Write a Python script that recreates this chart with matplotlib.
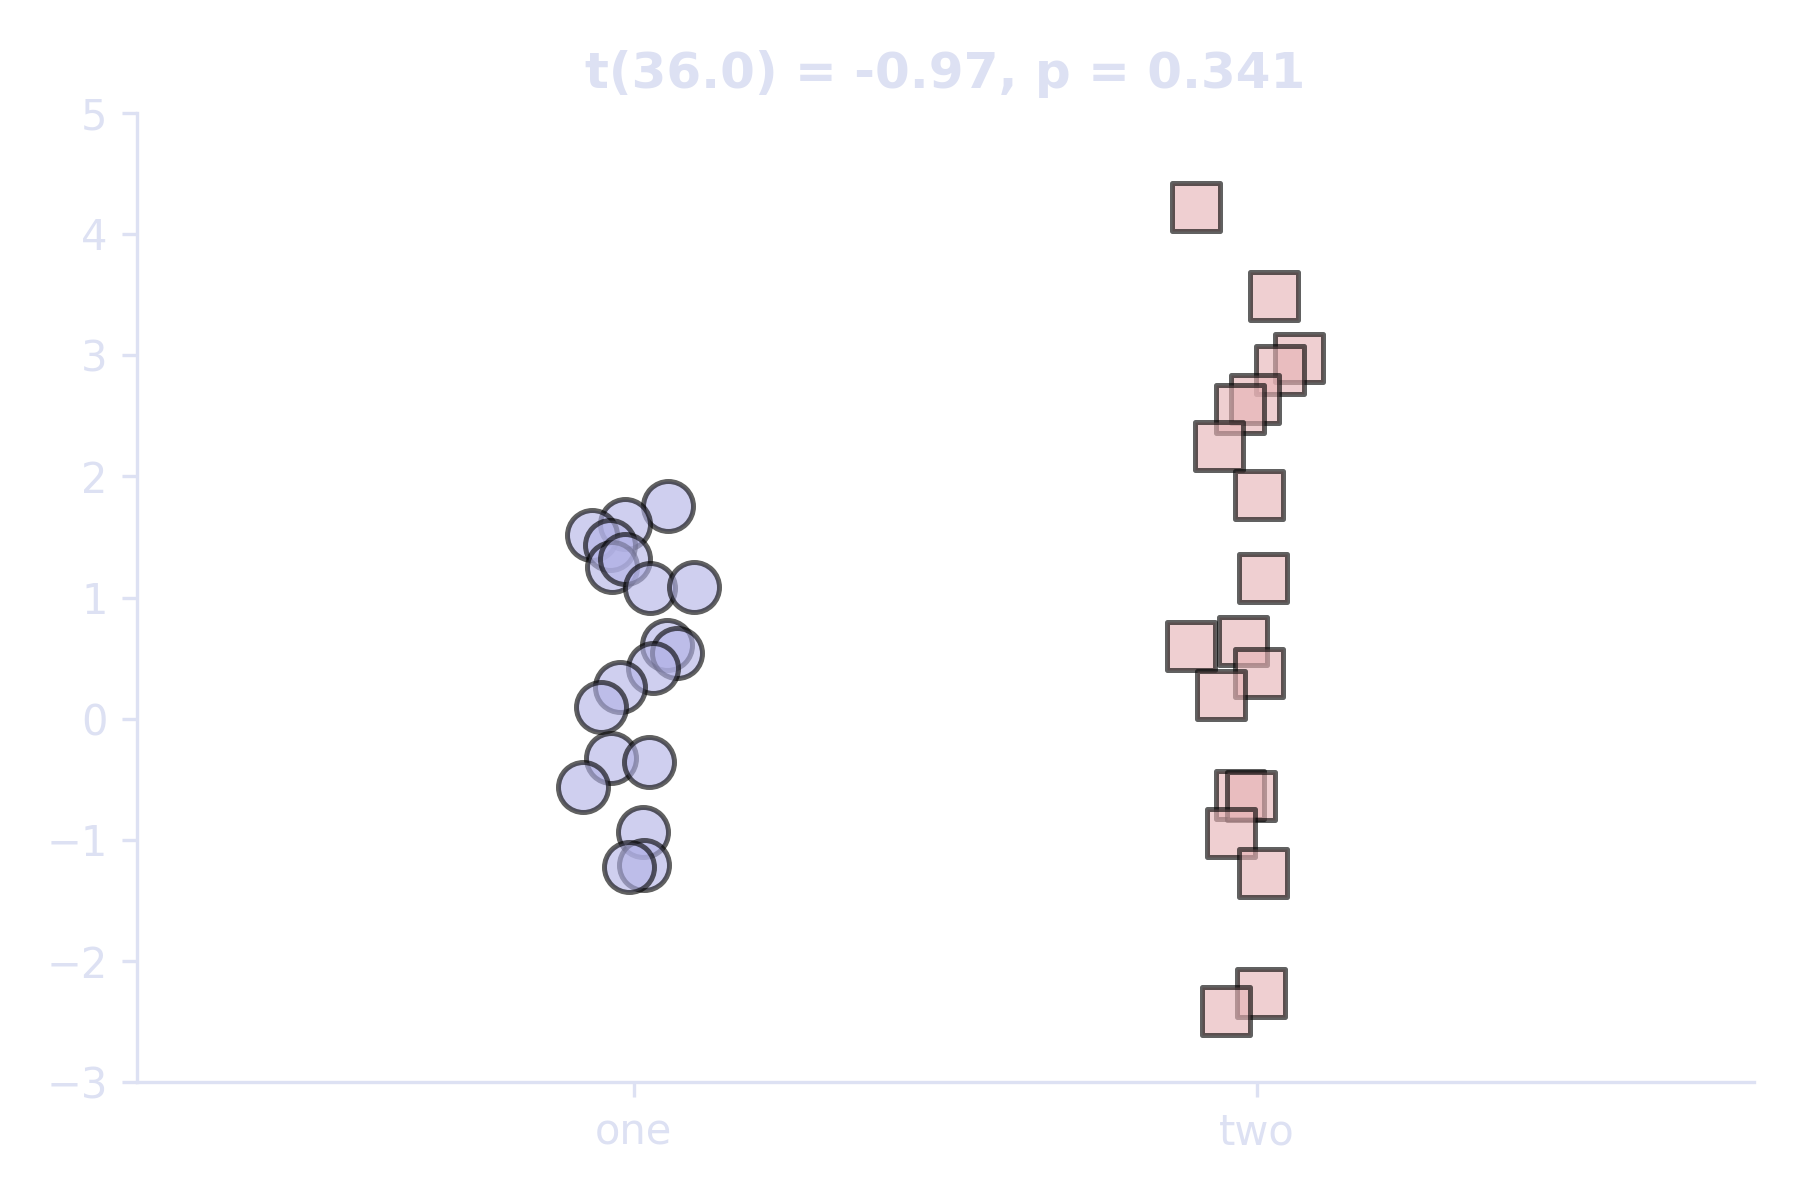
import matplotlib
matplotlib.use('Agg')
import matplotlib.pyplot as plt
import numpy as np

# data (value, horizontal jitter around the category)
groups = ['one', 'two']

one_y = [1.755, 1.61, 1.515, 1.43, 1.25, 1.32, 1.08, 1.09, 0.61, 0.54,
         0.42, 0.26, 0.10, -0.32, -0.36, -0.56, -0.93, -1.21, -1.22]
one_jit = [0.055, -0.014, -0.067, -0.038, -0.035, -0.014, 0.026, 0.097, 0.053, 0.069,
           0.031, -0.022, -0.052, -0.036, 0.025, -0.081, 0.015, 0.017, -0.008]

two_y = [4.22, 3.49, 2.98, 2.88, 2.64, 2.56, 2.25, 1.85, 1.16, 0.60,
         0.64, 0.38, 0.20, -0.63, -0.64, -0.94, -1.27, -2.26, -2.41]
two_jit = [-0.098, 0.027, 0.067, 0.037, -0.003, -0.027, -0.061, 0.003, 0.010, -0.106,
           -0.023, 0.003, -0.058, -0.027, -0.010, -0.042, 0.009, 0.006, -0.050]

title = 't(36.0) = -0.97, p = 0.341'

light = '#dde1f3'

fig = plt.figure(figsize=(6, 4), dpi=300)
ax = fig.add_axes([0.076, 0.098, 0.8984, 0.808])

ax.scatter(np.array(one_jit) + 0, one_y, s=144, marker='o',
           facecolor='#b2b2e6', edgecolor='black', linewidth=1.2, alpha=0.62)
ax.scatter(np.array(two_jit) + 1, two_y, s=132, marker='s',
           facecolor='#e6b2b5', edgecolor='black', linewidth=1.2, alpha=0.62)

ax.set_xlim(-0.797, 1.797)
ax.set_ylim(-3, 5)
ax.set_xticks([0, 1])
ax.set_xticklabels(groups)
ax.set_yticks(range(-3, 6))

for side in ['top', 'right']:
    ax.spines[side].set_visible(False)
for side in ['left', 'bottom']:
    ax.spines[side].set_color(light)
ax.tick_params(colors=light, labelsize=10)

ax.set_title(title, fontsize=12, fontweight='bold', color=light)

fig.savefig('out.png', dpi=300)
